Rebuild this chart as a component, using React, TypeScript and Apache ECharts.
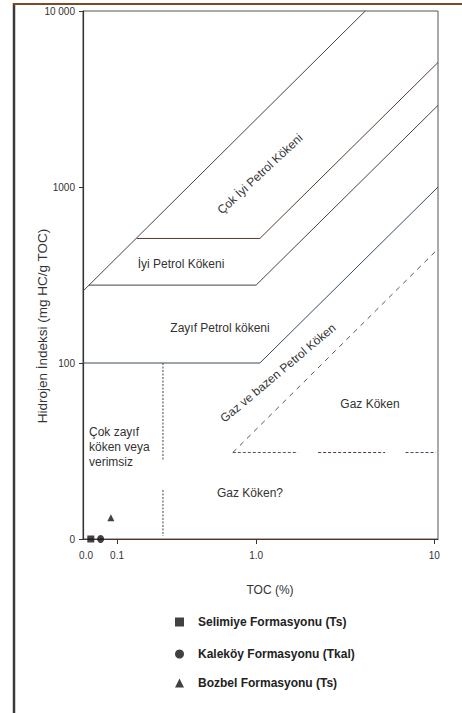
import React, { useEffect, useRef } from "react";
import * as echarts from "echarts";

// Axis extents (TOC %, HI mg HC/g TOC)
const X_MIN = 0.1067;
const X_MAX = 10.5;
const Y_MIN = 10;
const Y_MAX = 10000;

// Tick labels as printed on the figure
const X_LABEL_VALUES = [0.111, 0.1657, 1, 10];
const X_LABEL_TEXTS = ["0.0", "0.1", "1.0", "10"];
const X_TICK_VALUES = [0.1657, 1, 10];
const Y_LABEL_MAP: Record<number, string> = { 10: "0", 100: "100", 1000: "1000", 10000: "10 000" };

// Boundary lines of the diagram [TOC, HI]
const LINE_VERY_GOOD_UPPER = [[0.1067, 256], [4.1, 10000]];
const LINE_VERY_GOOD_LOWER = [[0.214, 510], [1.05, 510], [10.5, 5100]];
const LINE_GOOD_LOWER = [[0.115, 277], [1.0, 277], [10.5, 2910]];
const LINE_POOR_LOWER = [[0.1067, 100], [1.05, 100], [10.5, 1000]];
const LINE_GAS_DIAG = [[0.74, 31], [10.5, 445]];
const LINE_GAS_H1 = [[0.74, 31], [1.72, 31]];
const LINE_GAS_H2 = [[2.23, 31], [5.3, 31]];
const LINE_GAS_H3 = [[6.9, 31], [10.2, 31]];
const LINE_VERT_1 = [[0.3, 100], [0.3, 28]];
const LINE_VERT_2 = [[0.3, 19], [0.3, 10.4]];

// Samples [TOC, HI]
const SELIMIYE = [[0.118, 10]];
const KALEKOY = [[0.134, 10]];
const BOZBEL = [[0.153, 13.2]];

const NAME_SEL = "Selimiye Formasyonu (Ts)";
const NAME_KAL = "Kaleköy Formasyonu (Tkal)";
const NAME_BOZ = "Bozbel Formasyonu (Ts)";

const FONT = "Liberation Sans, Arial, sans-serif";
const TXT = "#333";

function lineSeries(data: number[][], type: any = "solid", color = "#444") {
  return {
    type: "line",
    data,
    symbol: "none",
    silent: true,
    clip: false,
    lineStyle: { color, width: 1, type },
    z: 2,
  };
}

export default function App() {
  const ref = useRef<HTMLDivElement>(null);
  useEffect(() => {
    if (!ref.current) return;
    const chart = echarts.init(ref.current, undefined, { renderer: "svg" });
    const text = (t: string, x: number, y: number, opts: any = {}) => ({
      type: "text",
      x,
      y,
      rotation: opts.rotation || 0,
      style: {
        text: t,
        fill: TXT,
        font: `${opts.weight || "normal"} ${opts.size || 12}px ${FONT}`,
        align: opts.align || "center",
        verticalAlign: "middle",
        lineHeight: opts.lineHeight,
      },
      z: 10,
    });
    const legendItem = (name: string, top: number) => ({
      data: [name],
      left: 175,
      top,
      padding: 0,
      itemWidth: 9,
      itemHeight: 9,
      selectedMode: false,
      textStyle: {
        fontFamily: FONT,
        fontSize: 12,
        fontWeight: "bold",
        color: "#222",
        padding: [0, 0, 0, 9],
      },
    });
    chart.setOption({
      animation: false,
      backgroundColor: "#fff",
      grid: {
        left: 83,
        right: 24,
        top: 11,
        bottom: 174,
        show: true,
        borderColor: "#555",
        borderWidth: 1,
      },
      xAxis: {
        type: "log",
        logBase: 10,
        min: X_MIN,
        max: X_MAX,
        axisLine: { show: true, lineStyle: { color: "#5a3328", width: 1.2 } },
        axisTick: { show: true, length: 5, customValues: X_TICK_VALUES, lineStyle: { color: "#333" } },
        axisLabel: {
          customValues: X_LABEL_VALUES,
          fontFamily: FONT,
          fontSize: 10,
          color: TXT,
          margin: 11,
          formatter: (v: number) => {
            let best = 0;
            X_LABEL_VALUES.forEach((lv, i) => {
              if (Math.abs(Math.log(lv) - Math.log(v)) < Math.abs(Math.log(X_LABEL_VALUES[best]) - Math.log(v))) best = i;
            });
            return X_LABEL_TEXTS[best];
          },
        },
        splitLine: { show: false },
        minorTick: { show: false },
      },
      yAxis: {
        type: "log",
        logBase: 10,
        min: Y_MIN,
        max: Y_MAX,
        axisLine: { show: true, lineStyle: { color: "#333", width: 1.2 } },
        axisTick: { show: true, length: 4, lineStyle: { color: "#333" } },
        axisLabel: {
          fontFamily: FONT,
          fontSize: 10,
          color: TXT,
          margin: 8,
          formatter: (v: number) => Y_LABEL_MAP[Math.round(v)] ?? String(v),
        },
        splitLine: { show: false },
      },
      legend: [
        legendItem(NAME_SEL, 616),
        legendItem(NAME_KAL, 648),
        legendItem(NAME_BOZ, 677),
      ],
      series: [
        lineSeries(LINE_VERY_GOOD_UPPER),
        lineSeries(LINE_VERY_GOOD_LOWER, "solid", "#5a3a30"),
        lineSeries(LINE_GOOD_LOWER),
        lineSeries(LINE_POOR_LOWER, "solid", "#3a4a5a"),
        lineSeries(LINE_GAS_DIAG, [5, 5], "#555"),
        lineSeries(LINE_GAS_H1, [3, 2], "#555"),
        lineSeries(LINE_GAS_H2, [3, 2], "#5a3a30"),
        lineSeries(LINE_GAS_H3, [3, 2], "#3a4a6a"),
        lineSeries(LINE_VERT_1, [2, 1.5], "#444"),
        lineSeries(LINE_VERT_2, [2, 1.5], "#444"),
        {
          type: "scatter",
          name: NAME_SEL,
          data: SELIMIYE,
          symbol: "rect",
          symbolSize: 7,
          itemStyle: { color: "#111" },
          clip: false,
          z: 5,
        },
        {
          type: "scatter",
          name: NAME_KAL,
          data: KALEKOY,
          symbol: "circle",
          symbolSize: [7, 8],
          itemStyle: { color: "#111" },
          clip: false,
          z: 5,
        },
        {
          type: "scatter",
          name: NAME_BOZ,
          data: BOZBEL,
          symbol: "triangle",
          symbolSize: 7,
          itemStyle: { color: "#111" },
          clip: false,
          z: 5,
        },
      ],
      graphic: [
        { type: "line", shape: { x1: 14, y1: 3, x2: 14, y2: 713 }, style: { stroke: "#3a3a3a", lineWidth: 2.5 } },
        { type: "line", shape: { x1: 13, y1: 4, x2: 462, y2: 4 }, style: { stroke: "#7a4a2a", lineWidth: 2 } },
        text("Hidrojen İndeksi (mg HC/g TOC)", 42, 326, { rotation: Math.PI / 2, size: 13.5 }),
        text("TOC (%)", 270, 590, { size: 12 }),
        text("Çok İyi Petrol Kökeni", 260, 174, { rotation: (43 * Math.PI) / 180 }),
        text("İyi Petrol Kökeni", 181, 264),
        text("Zayıf Petrol kökeni", 220, 328),
        text("Gaz ve bazen Petrol Köken", 278, 373, { rotation: (40 * Math.PI) / 180 }),
        text("Gaz Köken", 370, 404),
        text("Gaz Köken?", 250, 493),
        text("Çok zayıf\nköken veya\nverimsiz", 89, 447, { align: "left", lineHeight: 15 }),
      ],
    });
    return () => chart.dispose();
  }, []);
  return (
    <div
      ref={ref}
      style={{ position: "fixed", left: 0, top: 0, width: 462, height: 713, background: "#fff" }}
    />
  );
}
